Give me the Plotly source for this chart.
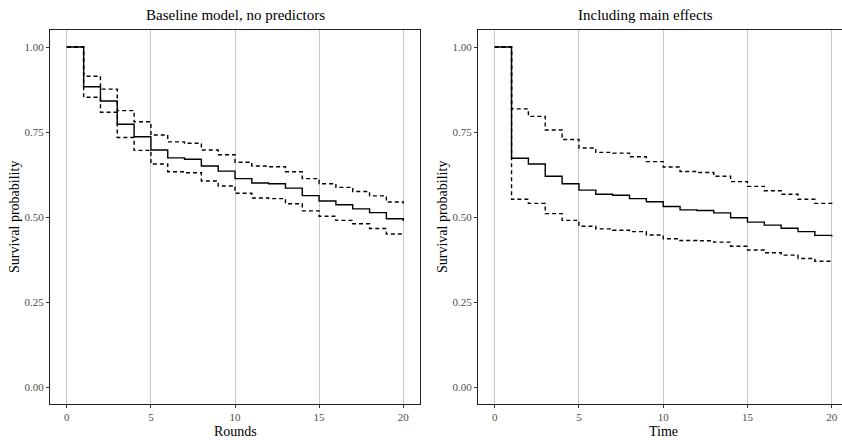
import plotly.graph_objects as go

# Kaplan-Meier style survival estimates (value holds from t until the next step)
times = list(range(0, 21))

base_surv = [1.0, 0.883, 0.841, 0.773, 0.736, 0.697, 0.674, 0.670, 0.650, 0.635, 0.613,
             0.600, 0.598, 0.585, 0.563, 0.547, 0.536, 0.524, 0.513, 0.495, 0.488]
base_upper = [1.0, 0.914, 0.876, 0.813, 0.780, 0.741, 0.721, 0.717, 0.697, 0.683, 0.661,
              0.650, 0.648, 0.633, 0.613, 0.598, 0.587, 0.575, 0.562, 0.544, 0.540]
base_lower = [1.0, 0.852, 0.808, 0.734, 0.696, 0.656, 0.633, 0.630, 0.606, 0.591, 0.570,
              0.556, 0.554, 0.539, 0.518, 0.502, 0.490, 0.480, 0.466, 0.450, 0.447]

main_surv = [1.0, 0.673, 0.656, 0.620, 0.598, 0.579, 0.567, 0.564, 0.554, 0.545, 0.531,
             0.521, 0.519, 0.512, 0.498, 0.485, 0.476, 0.467, 0.457, 0.446, 0.443]
main_upper = [1.0, 0.818, 0.796, 0.756, 0.728, 0.703, 0.690, 0.688, 0.677, 0.663, 0.647,
              0.634, 0.631, 0.620, 0.604, 0.590, 0.577, 0.567, 0.552, 0.540, 0.533]
main_lower = [1.0, 0.552, 0.540, 0.510, 0.490, 0.473, 0.465, 0.461, 0.457, 0.447, 0.436,
              0.431, 0.430, 0.426, 0.414, 0.403, 0.395, 0.388, 0.378, 0.370, 0.367]

x_ticks = [0, 5, 10, 15, 20]
y_ticks = [0.0, 0.25, 0.5, 0.75, 1.0]
panel_titles = ["Baseline model, no predictors", "Including main effects"]
x_titles = ["Rounds", "Time"]
y_title = "Survival probability"

W, H = 842, 440
SERIF = "Liberation Serif, Times New Roman, serif"

fig = go.Figure()


def add_panel(xa, ya, surv, upper, lower):
    for vals, dash in ((upper, "4px,3px"), (lower, "4px,3px"), (surv, "solid")):
        fig.add_trace(go.Scatter(
            x=times, y=vals, mode="lines", line_shape="hv",
            line=dict(color="black", width=1.4, dash=dash),
            xaxis=xa, yaxis=ya, showlegend=False, hoverinfo="skip"))


add_panel("x", "y", base_surv, base_upper, base_lower)
add_panel("x2", "y2", main_surv, main_upper, main_lower)

y_dom = [36 / H, 410 / H]
axis_common = dict(
    showline=True, mirror=True, linecolor="#222222", linewidth=1,
    ticks="outside", ticklen=3, tickcolor="#333333", tickwidth=1,
    tickfont=dict(family=SERIF, size=11, color="#4d4d4d"),
    zeroline=False,
)

fig.update_layout(
    width=W, height=H,
    margin=dict(l=0, r=0, t=0, b=0),
    paper_bgcolor="white", plot_bgcolor="white",
    xaxis=dict(domain=[50 / W, 420 / W], range=[-1, 21], tickvals=x_ticks,
               showgrid=True, gridcolor="#c8c8c8", gridwidth=1.3, anchor="y", **axis_common),
    yaxis=dict(domain=y_dom, range=[-0.05, 1.05], tickvals=y_ticks, tickformat=".2f",
               showgrid=False, anchor="x", **axis_common),
    xaxis2=dict(domain=[478 / W, 1.0], range=[-0.99, 20.61], tickvals=x_ticks,
                showgrid=True, gridcolor="#c8c8c8", gridwidth=1.3, anchor="y2", **axis_common),
    yaxis2=dict(domain=y_dom, range=[-0.05, 1.05], tickvals=y_ticks, tickformat=".2f",
                showgrid=False, anchor="x2", **axis_common),
)


def px_ann(text, x, y, size, angle=0):
    fig.add_annotation(text=text, x=x / W, y=1 - y / H, xref="paper", yref="paper",
                       showarrow=False, textangle=angle, xanchor="center", yanchor="middle",
                       font=dict(family=SERIF, size=size, color="black"))


px_ann(panel_titles[0], 235, 15, 15)
px_ann(panel_titles[1], 645, 15, 15)
px_ann(x_titles[0], 235, 431, 14)
px_ann(x_titles[1], 663, 431, 14)
px_ann(y_title, 14, 217, 14, angle=-90)
px_ann(y_title, 442, 217, 14, angle=-90)

fig.write_html("out.html")
